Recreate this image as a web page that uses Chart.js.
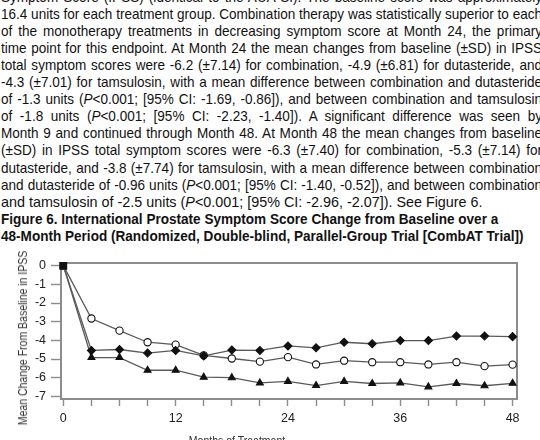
<!DOCTYPE html>
<html>
<head>
<meta charset="utf-8">
<script src="https://cdn.jsdelivr.net/npm/chart.js@4.4.1/dist/chart.umd.min.js"></script>
<style>
  html, body { margin: 0; padding: 0; width: 540px; height: 440px; overflow: hidden; background: #fff; }
  .sans { font-family: "Liberation Sans", Arial, sans-serif; }
  #text { position: absolute; left: 1px; top: -11.4px; font-size: 14.5px; line-height: 17.1px; color: #111; }
  /* each printed line is its own block so the breaks stay where they were set */
  #text .ln { transform-origin: 0 0; white-space: nowrap; height: 17.1px; }
  #text .j { text-align: justify; text-align-last: justify; }
  #text .b { font-weight: bold; }
  #chartBox { position: absolute; left: 0; top: 250px; width: 540px; height: 190px; }
  #yTitle { position: absolute; left: 23px; top: 338px; transform: translate(-50%, -50%) rotate(-90deg) scaleX(0.84); white-space: nowrap; font-size: 12.5px; color: #333; }
  #xTitle { position: absolute; left: 237px; top: 434px; transform: translateX(-50%) scaleX(0.84); white-space: nowrap; font-size: 12.5px; line-height: 14px; color: #333; }
</style>
</head>
<body>
<div id="text" class="sans">
  <div class="ln j">Symptom Score (IPSS) (identical to the AUA-SI). The baseline score was approximately</div>
  <div class="ln j">16.4 units for each treatment group. Combination therapy was statistically superior to each</div>
  <div class="ln j">of the monotherapy treatments in decreasing symptom score at Month 24, the primary</div>
  <div class="ln j">time point for this endpoint. At Month 24 the mean changes from baseline (±SD) in IPSS</div>
  <div class="ln j">total symptom scores were -6.2 (±7.14) for combination, -4.9 (±6.81) for dutasteride, and</div>
  <div class="ln j">-4.3 (±7.01) for tamsulosin, with a mean difference between combination and dutasteride</div>
  <div class="ln j">of -1.3 units (<i>P</i>&lt;0.001; [95% CI: -1.69, -0.86]), and between combination and tamsulosin</div>
  <div class="ln j">of -1.8 units (<i>P</i>&lt;0.001; [95% CI: -2.23, -1.40]). A significant difference was seen by</div>
  <div class="ln j">Month 9 and continued through Month 48. At Month 48 the mean changes from baseline</div>
  <div class="ln j">(±SD) in IPSS total symptom scores were -6.3 (±7.40) for combination, -5.3 (±7.14) for</div>
  <div class="ln j">dutasteride, and -3.8 (±7.74) for tamsulosin, with a mean difference between combination</div>
  <div class="ln j">and dutasteride of -0.96 units (<i>P</i>&lt;0.001; [95% CI: -1.40, -0.52]), and between combination</div>
  <div class="ln">and tamsulosin of -2.5 units (<i>P</i>&lt;0.001; [95% CI: -2.96, -2.07]). See Figure 6.</div>
  <div class="ln b">Figure 6. International Prostate Symptom Score Change from Baseline over a</div>
  <div class="ln b">48-Month Period (Randomized, Double-blind, Parallel-Group Trial [CombAT Trial])</div>
</div>

<div id="chartBox"><canvas id="chart" width="540" height="190"></canvas></div>
<div id="yTitle" class="sans">Mean Change From Baseline in IPSS</div>
<div id="xTitle" class="sans">Months of Treatment</div>

<script>
// Set the copy in a condensed measure: justified lines are squeezed to fit the column.
const COLUMN = 541;
document.querySelectorAll('#text .ln').forEach(el => {
  const base = el.classList.contains('b') ? 0.935 : 0.99;
  const probe = document.createElement('span');
  probe.style.whiteSpace = 'nowrap';
  probe.innerHTML = el.innerHTML;
  el.innerHTML = '';
  el.appendChild(probe);
  const natural = probe.getBoundingClientRect().width;
  el.innerHTML = probe.innerHTML;
  let s = base;
  if (el.classList.contains('j')) {
    s = Math.min(base, COLUMN / natural);
    el.style.width = (COLUMN / s) + 'px';
  }
  el.style.transform = 'scaleX(' + s + ')';
});
</script>

<script>
// Visit months (every 3 months over 48 months)
const months = [0, 3, 6, 9, 12, 15, 18, 21, 24, 27, 30, 33, 36, 39, 42, 45, 48];

// Mean change from baseline in IPSS for each treatment group
const tamsulosin   = [0, -4.54, -4.49, -4.68, -4.54, -4.83, -4.52, -4.54, -4.3, -4.40, -4.10, -4.18, -4.01, -4.01, -3.77, -3.77, -3.8];
const dutasteride  = [0, -2.83, -3.48, -4.10, -4.23, -4.80, -4.97, -5.14, -4.9, -5.29, -5.09, -5.17, -5.17, -5.29, -5.17, -5.38, -5.3];
const combination  = [0, -4.92, -4.92, -5.60, -5.60, -5.97, -6.00, -6.28, -6.2, -6.42, -6.20, -6.31, -6.28, -6.49, -6.31, -6.43, -6.3];

// Axis ticks
const xTicks = [0, 3, 6, 9, 12, 15, 18, 21, 24, 27, 30, 33, 36, 39, 42, 45, 48];
const xTickLabels = ['0', '', '', '', '12', '', '', '', '24', '', '', '', '36', '', '', '', '48'];
const yTicks = [0, -1, -2, -3, -4, -5, -6, -7];

const X_MIN = -0.25, X_MAX = 48.47;
const Y_MIN = -7.14, Y_MAX = 0.17;

const toPoints = vals => months.map((m, i) => ({ x: m, y: vals[i] }));

const lineColor = '#5a5a5a';
const frameColor = '#8c8c8c';
const labelFont = { family: '"Liberation Sans", Arial, sans-serif', size: 12.5 };

function series(label, vals, style, fill, radius) {
  return {
    label,
    data: toPoints(vals),
    borderColor: lineColor,
    borderWidth: 1.3,
    tension: 0,
    clip: false,
    pointStyle: ctx => ctx.dataIndex === 0 ? 'rect' : style,
    pointRadius: ctx => ctx.dataIndex === 0 ? 4.5 : radius,
    pointBackgroundColor: ctx => ctx.dataIndex === 0 ? '#111' : fill,
    pointBorderColor: '#111',
    pointBorderWidth: 1.1,
    pointHoverRadius: radius
  };
}

new Chart(document.getElementById('chart'), {
  type: 'line',
  data: {
    datasets: [
      series('Tamsulosin', tamsulosin, 'rectRot', '#111', 4),
      series('Dutasteride', dutasteride, 'circle', '#fff', 3.6),
      series('Combination', combination, 'triangle', '#111', 4)
    ]
  },
  options: {
    responsive: false,
    animation: false,
    events: [],
    layout: { padding: 0 },
    plugins: { legend: { display: false }, tooltip: { enabled: false } },
    scales: {
      x: {
        type: 'linear', position: 'bottom', min: X_MIN, max: X_MAX,
        afterBuildTicks: s => { s.ticks = xTicks.map(v => ({ value: v })); },
        afterFit: s => { s.height = 41; },
        ticks: {
          autoSkip: false, maxRotation: 0, padding: 5, color: '#222', font: labelFont,
          callback: (v, i) => xTickLabels[i]
        },
        grid: { drawOnChartArea: false, drawTicks: true, tickLength: 7, tickColor: frameColor, tickWidth: 1.4 },
        border: { display: true, color: frameColor, width: 2 }
      },
      x2: {
        type: 'linear', position: 'top', min: X_MIN, max: X_MAX,
        afterFit: s => { s.height = 6; },
        ticks: { display: false },
        grid: { display: false },
        border: { display: true, color: frameColor, width: 2 }
      },
      y: {
        type: 'linear', position: 'left', min: Y_MIN, max: Y_MAX,
        afterBuildTicks: s => { s.ticks = yTicks.map(v => ({ value: v })); },
        afterFit: s => { s.width = 61; },
        ticks: { autoSkip: false, padding: 5, color: '#222', font: labelFont, callback: v => String(v) },
        grid: { drawOnChartArea: false, drawTicks: true, tickLength: 10, tickColor: frameColor, tickWidth: 1.4 },
        border: { display: true, color: frameColor, width: 2 }
      },
      y2: {
        type: 'linear', position: 'right', min: Y_MIN, max: Y_MAX,
        afterFit: s => { s.width = 23; },
        ticks: { display: false },
        grid: { display: false },
        border: { display: true, color: frameColor, width: 2 }
      }
    }
  }
});
</script>
</body>
</html>
